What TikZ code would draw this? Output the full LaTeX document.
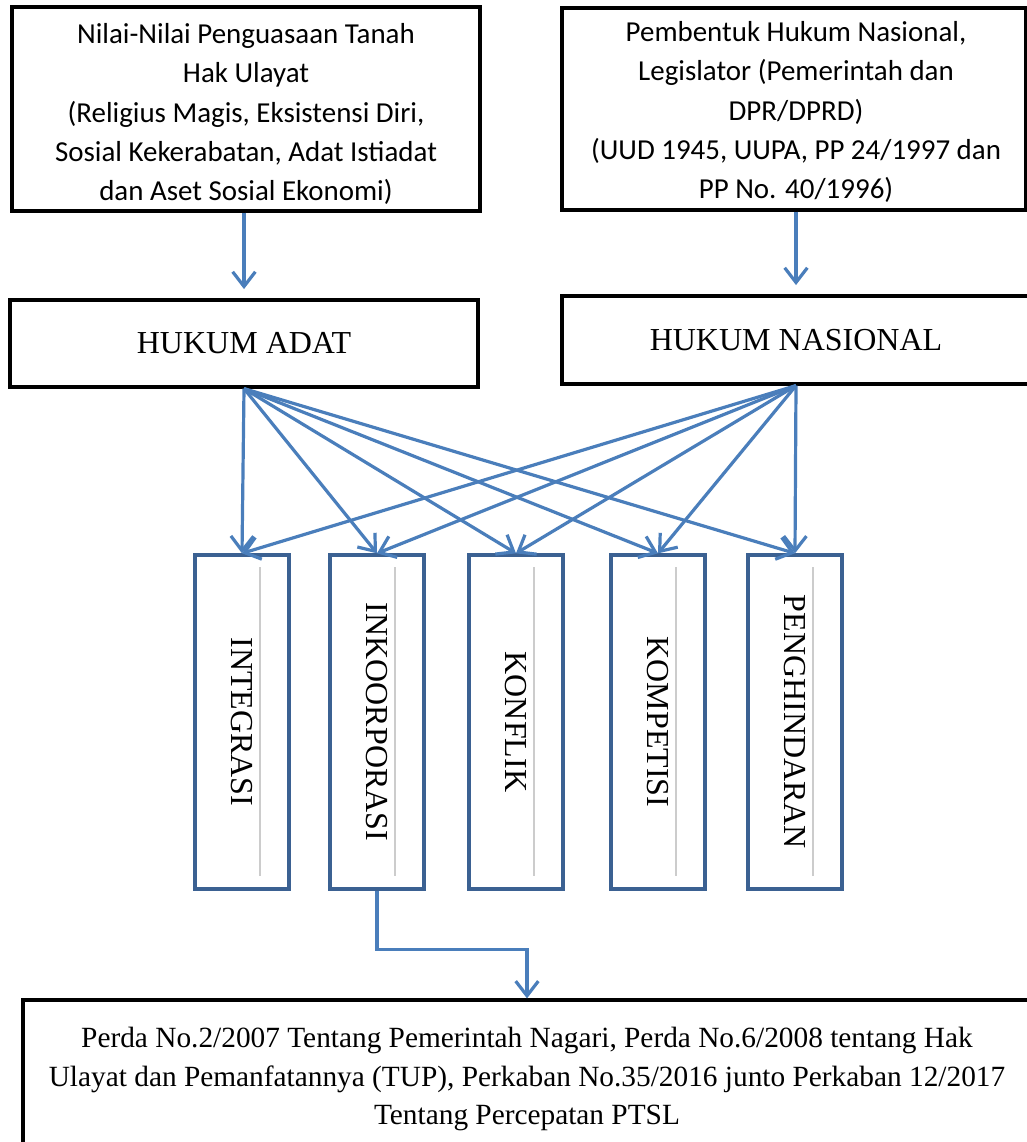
\documentclass[tikz,border=0pt]{standalone}
\usepackage{fontspec}
\setmainfont{Liberation Serif}
\newfontfamily\calibri{Carlito}
\usetikzlibrary{positioning, arrows.meta, calc}
\definecolor{arrowblue}{HTML}{4A7EBB}
\definecolor{boxblue}{HTML}{3B6192}

\begin{document}
\begin{tikzpicture}[x=0.75pt, y=-0.75pt,
  blackbox/.style={draw=black, line width=2.4pt, fill=white, inner sep=0pt, align=center},
  bluebox/.style={draw=boxblue, line width=2.5pt, fill=white, inner sep=0pt, minimum width=70.5pt, minimum height=250.5pt},
  arr/.style={arrowblue, line width=2.4pt, -{Straight Barb[length=11pt, width=17pt, line width=2.4pt]}},
  topfont/.style={font=\calibri\fontsize{21.7}{29.5}\selectfont},
  lawfont/.style={font=\fontsize{24}{28}\selectfont}
]
\useasboundingbox (0,0) rectangle (1027,1142);

% Top boxes
\node[blackbox, minimum width=351pt, minimum height=153pt] (nilai) at (246,109) {};
\node[topfont, align=center] (nilaitext) at (246,114)
  {Nilai-Nilai Penguasaan Tanah\\Hak Ulayat\\(Religius Magis, Eksistensi Diri,\\Sosial Kekerabatan, Adat Istiadat\\dan Aset Sosial Ekonomi)};
\node[blackbox, minimum width=348pt, minimum height=151.5pt] (pembentuk) at (794,109) {};
\node[topfont, align=center] (pembentuktext) at (796,112)
  {Pembentuk Hukum Nasional,\\Legislator (Pemerintah dan\\DPR/DPRD)\\(UUD 1945, UUPA, PP 24/1997 dan\\PP No. 40/1996)};

% Law boxes
\node[blackbox, lawfont, minimum width=351pt, minimum height=65.25pt] (adat) at (244,343.5) {HUKUM ADAT};
\node[blackbox, lawfont, minimum width=351pt, minimum height=66pt] (nasional) at (796,340) {HUKUM NASIONAL};

\draw[arr, shorten >=7pt] (adat.north |- nilai.south) -- (adat.north);
\draw[arr, shorten >=7pt] (pembentuk.south -| nasional.north) -- (nasional.north);

% Vertical boxes
\foreach \name/\x/\txt in {integrasi/242/INTEGRASI, inkoorporasi/377/INKOORPORASI, konflik/516/KONFLIK, kompetisi/658/KOMPETISI, penghindaran/795/PENGHINDARAN}{
  \node[bluebox, label={[rotate=-90, lawfont]center:\txt}] (\name) at (\x,722) {};
  \draw[gray!40, line width=1.2pt] (\x+18,567) -- (\x+18,876);
}

% Fan arrows
\foreach \name in {integrasi, inkoorporasi, konflik, kompetisi, penghindaran}{
  \draw[arr] (adat.south) -- (\name.north);
  \draw[arr] (nasional.south) -- (\name.north);
}

% Bottom box
\node[blackbox, font=\fontsize{22}{29}\selectfont, minimum width=756pt, minimum height=118.5pt] (perda) at (527,1079)
  {Perda No.2/2007 Tentang Pemerintah Nagari, Perda No.6/2008 tentang Hak\\Ulayat dan Pemanfatannya (TUP), Perkaban No.35/2016 junto Perkaban 12/2017\\Tentang Percepatan PTSL};

\draw[arr] (inkoorporasi.south) -- ++(0,59) -| (perda.north);

\end{tikzpicture}
\end{document}
